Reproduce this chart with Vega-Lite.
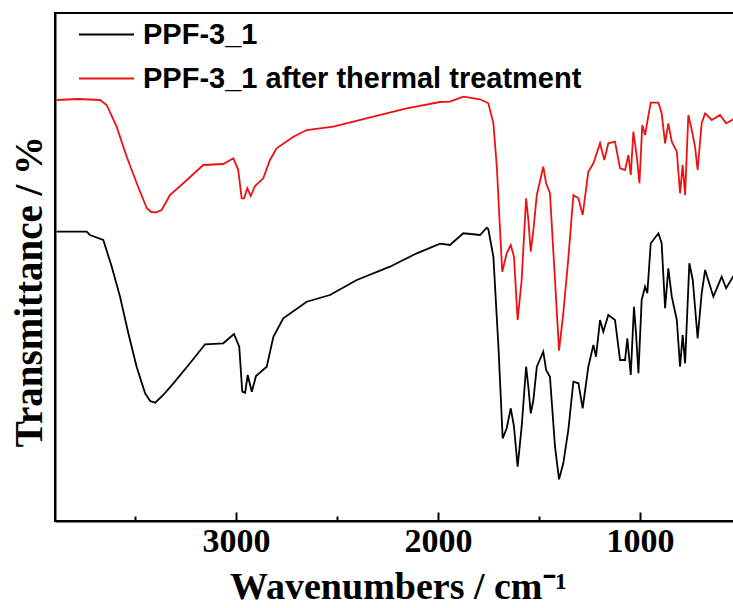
{
  "$schema": "https://vega.github.io/schema/vega-lite/v6.json",
  "width": 680,
  "height": 508,
  "autosize": {"type": "none"},
  "padding": {"left": 55, "top": 13, "right": 0, "bottom": 87},
  "background": "white",
  "config": {
    "view": {"stroke": "black", "strokeWidth": 2},
    "axis": {"grid": false}
  },
  "data": {"values": [
    {"wn": 3888, "T": 421, "s": "PPF-3_1 after thermal treatment"},
    {"wn": 3780, "T": 422, "s": "PPF-3_1 after thermal treatment"},
    {"wn": 3673, "T": 421, "s": "PPF-3_1 after thermal treatment"},
    {"wn": 3640, "T": 416, "s": "PPF-3_1 after thermal treatment"},
    {"wn": 3591, "T": 394.3, "s": "PPF-3_1 after thermal treatment"},
    {"wn": 3541, "T": 364.3, "s": "PPF-3_1 after thermal treatment"},
    {"wn": 3492, "T": 338, "s": "PPF-3_1 after thermal treatment"},
    {"wn": 3442, "T": 313, "s": "PPF-3_1 after thermal treatment"},
    {"wn": 3420, "T": 309, "s": "PPF-3_1 after thermal treatment"},
    {"wn": 3395, "T": 308.7, "s": "PPF-3_1 after thermal treatment"},
    {"wn": 3368, "T": 311, "s": "PPF-3_1 after thermal treatment"},
    {"wn": 3327, "T": 326, "s": "PPF-3_1 after thermal treatment"},
    {"wn": 3261, "T": 337.7, "s": "PPF-3_1 after thermal treatment"},
    {"wn": 3162, "T": 356, "s": "PPF-3_1 after thermal treatment"},
    {"wn": 3063, "T": 357, "s": "PPF-3_1 after thermal treatment"},
    {"wn": 3013, "T": 362.7, "s": "PPF-3_1 after thermal treatment"},
    {"wn": 2989, "T": 351, "s": "PPF-3_1 after thermal treatment"},
    {"wn": 2972, "T": 322.7, "s": "PPF-3_1 after thermal treatment"},
    {"wn": 2960, "T": 322.7, "s": "PPF-3_1 after thermal treatment"},
    {"wn": 2944, "T": 332.7, "s": "PPF-3_1 after thermal treatment"},
    {"wn": 2927, "T": 325, "s": "PPF-3_1 after thermal treatment"},
    {"wn": 2906, "T": 335, "s": "PPF-3_1 after thermal treatment"},
    {"wn": 2865, "T": 342.7, "s": "PPF-3_1 after thermal treatment"},
    {"wn": 2832, "T": 361, "s": "PPF-3_1 after thermal treatment"},
    {"wn": 2799, "T": 372.7, "s": "PPF-3_1 after thermal treatment"},
    {"wn": 2716, "T": 384.3, "s": "PPF-3_1 after thermal treatment"},
    {"wn": 2650, "T": 391, "s": "PPF-3_1 after thermal treatment"},
    {"wn": 2518, "T": 394.3, "s": "PPF-3_1 after thermal treatment"},
    {"wn": 2320, "T": 404.3, "s": "PPF-3_1 after thermal treatment"},
    {"wn": 2155, "T": 412.7, "s": "PPF-3_1 after thermal treatment"},
    {"wn": 1990, "T": 419, "s": "PPF-3_1 after thermal treatment"},
    {"wn": 1941, "T": 419.3, "s": "PPF-3_1 after thermal treatment"},
    {"wn": 1875, "T": 424.3, "s": "PPF-3_1 after thermal treatment"},
    {"wn": 1792, "T": 421.7, "s": "PPF-3_1 after thermal treatment"},
    {"wn": 1751, "T": 417.7, "s": "PPF-3_1 after thermal treatment"},
    {"wn": 1726, "T": 397.7, "s": "PPF-3_1 after thermal treatment"},
    {"wn": 1709, "T": 354.3, "s": "PPF-3_1 after thermal treatment"},
    {"wn": 1693, "T": 291, "s": "PPF-3_1 after thermal treatment"},
    {"wn": 1682, "T": 249.3, "s": "PPF-3_1 after thermal treatment"},
    {"wn": 1660, "T": 267.7, "s": "PPF-3_1 after thermal treatment"},
    {"wn": 1640, "T": 276, "s": "PPF-3_1 after thermal treatment"},
    {"wn": 1624, "T": 264.3, "s": "PPF-3_1 after thermal treatment"},
    {"wn": 1606, "T": 201, "s": "PPF-3_1 after thermal treatment"},
    {"wn": 1586, "T": 241, "s": "PPF-3_1 after thermal treatment"},
    {"wn": 1564, "T": 322.7, "s": "PPF-3_1 after thermal treatment"},
    {"wn": 1553, "T": 301, "s": "PPF-3_1 after thermal treatment"},
    {"wn": 1541, "T": 269.3, "s": "PPF-3_1 after thermal treatment"},
    {"wn": 1528, "T": 291, "s": "PPF-3_1 after thermal treatment"},
    {"wn": 1511, "T": 326, "s": "PPF-3_1 after thermal treatment"},
    {"wn": 1479, "T": 354.3, "s": "PPF-3_1 after thermal treatment"},
    {"wn": 1465, "T": 337.7, "s": "PPF-3_1 after thermal treatment"},
    {"wn": 1446, "T": 327.7, "s": "PPF-3_1 after thermal treatment"},
    {"wn": 1421, "T": 241, "s": "PPF-3_1 after thermal treatment"},
    {"wn": 1401, "T": 170.3, "s": "PPF-3_1 after thermal treatment"},
    {"wn": 1380, "T": 207.7, "s": "PPF-3_1 after thermal treatment"},
    {"wn": 1355, "T": 262.7, "s": "PPF-3_1 after thermal treatment"},
    {"wn": 1330, "T": 326, "s": "PPF-3_1 after thermal treatment"},
    {"wn": 1305, "T": 322.7, "s": "PPF-3_1 after thermal treatment"},
    {"wn": 1284, "T": 306, "s": "PPF-3_1 after thermal treatment"},
    {"wn": 1256, "T": 349.3, "s": "PPF-3_1 after thermal treatment"},
    {"wn": 1231, "T": 357.7, "s": "PPF-3_1 after thermal treatment"},
    {"wn": 1198, "T": 377.7, "s": "PPF-3_1 after thermal treatment"},
    {"wn": 1177, "T": 361, "s": "PPF-3_1 after thermal treatment"},
    {"wn": 1157, "T": 377.7, "s": "PPF-3_1 after thermal treatment"},
    {"wn": 1124, "T": 379.3, "s": "PPF-3_1 after thermal treatment"},
    {"wn": 1099, "T": 352.7, "s": "PPF-3_1 after thermal treatment"},
    {"wn": 1074, "T": 351, "s": "PPF-3_1 after thermal treatment"},
    {"wn": 1058, "T": 366, "s": "PPF-3_1 after thermal treatment"},
    {"wn": 1046, "T": 346, "s": "PPF-3_1 after thermal treatment"},
    {"wn": 1033, "T": 389.3, "s": "PPF-3_1 after thermal treatment"},
    {"wn": 1016, "T": 364.3, "s": "PPF-3_1 after thermal treatment"},
    {"wn": 1003, "T": 337.7, "s": "PPF-3_1 after thermal treatment"},
    {"wn": 989, "T": 396, "s": "PPF-3_1 after thermal treatment"},
    {"wn": 975, "T": 386, "s": "PPF-3_1 after thermal treatment"},
    {"wn": 964, "T": 399.3, "s": "PPF-3_1 after thermal treatment"},
    {"wn": 947, "T": 418.3, "s": "PPF-3_1 after thermal treatment"},
    {"wn": 909, "T": 418.3, "s": "PPF-3_1 after thermal treatment"},
    {"wn": 893, "T": 407.7, "s": "PPF-3_1 after thermal treatment"},
    {"wn": 876, "T": 377.7, "s": "PPF-3_1 after thermal treatment"},
    {"wn": 860, "T": 397.7, "s": "PPF-3_1 after thermal treatment"},
    {"wn": 843, "T": 379.3, "s": "PPF-3_1 after thermal treatment"},
    {"wn": 818, "T": 369.3, "s": "PPF-3_1 after thermal treatment"},
    {"wn": 802, "T": 327.7, "s": "PPF-3_1 after thermal treatment"},
    {"wn": 789, "T": 356, "s": "PPF-3_1 after thermal treatment"},
    {"wn": 777, "T": 326, "s": "PPF-3_1 after thermal treatment"},
    {"wn": 761, "T": 406, "s": "PPF-3_1 after thermal treatment"},
    {"wn": 744, "T": 391, "s": "PPF-3_1 after thermal treatment"},
    {"wn": 728, "T": 374.3, "s": "PPF-3_1 after thermal treatment"},
    {"wn": 715, "T": 351, "s": "PPF-3_1 after thermal treatment"},
    {"wn": 695, "T": 397.7, "s": "PPF-3_1 after thermal treatment"},
    {"wn": 678, "T": 407.7, "s": "PPF-3_1 after thermal treatment"},
    {"wn": 645, "T": 401, "s": "PPF-3_1 after thermal treatment"},
    {"wn": 604, "T": 406, "s": "PPF-3_1 after thermal treatment"},
    {"wn": 574, "T": 397.7, "s": "PPF-3_1 after thermal treatment"},
    {"wn": 530, "T": 402.7, "s": "PPF-3_1 after thermal treatment"},
    {"wn": 3888, "T": 289.3, "s": "PPF-3_1"},
    {"wn": 3739, "T": 289.3, "s": "PPF-3_1"},
    {"wn": 3723, "T": 286, "s": "PPF-3_1"},
    {"wn": 3657, "T": 281, "s": "PPF-3_1"},
    {"wn": 3615, "T": 254.3, "s": "PPF-3_1"},
    {"wn": 3574, "T": 224.3, "s": "PPF-3_1"},
    {"wn": 3533, "T": 187.7, "s": "PPF-3_1"},
    {"wn": 3492, "T": 154.3, "s": "PPF-3_1"},
    {"wn": 3450, "T": 127.7, "s": "PPF-3_1"},
    {"wn": 3425, "T": 120, "s": "PPF-3_1"},
    {"wn": 3400, "T": 118.3, "s": "PPF-3_1"},
    {"wn": 3360, "T": 126, "s": "PPF-3_1"},
    {"wn": 3310, "T": 137.7, "s": "PPF-3_1"},
    {"wn": 3228, "T": 157.7, "s": "PPF-3_1"},
    {"wn": 3153, "T": 176.7, "s": "PPF-3_1"},
    {"wn": 3063, "T": 177.7, "s": "PPF-3_1"},
    {"wn": 3010, "T": 187, "s": "PPF-3_1"},
    {"wn": 2984, "T": 174.3, "s": "PPF-3_1"},
    {"wn": 2969, "T": 129.3, "s": "PPF-3_1"},
    {"wn": 2955, "T": 128.3, "s": "PPF-3_1"},
    {"wn": 2942, "T": 146, "s": "PPF-3_1"},
    {"wn": 2922, "T": 129.3, "s": "PPF-3_1"},
    {"wn": 2901, "T": 145, "s": "PPF-3_1"},
    {"wn": 2848, "T": 154.3, "s": "PPF-3_1"},
    {"wn": 2815, "T": 184.3, "s": "PPF-3_1"},
    {"wn": 2766, "T": 202.7, "s": "PPF-3_1"},
    {"wn": 2650, "T": 219.3, "s": "PPF-3_1"},
    {"wn": 2535, "T": 226, "s": "PPF-3_1"},
    {"wn": 2402, "T": 241, "s": "PPF-3_1"},
    {"wn": 2238, "T": 254.3, "s": "PPF-3_1"},
    {"wn": 2105, "T": 267.7, "s": "PPF-3_1"},
    {"wn": 1990, "T": 277.3, "s": "PPF-3_1"},
    {"wn": 1941, "T": 276, "s": "PPF-3_1"},
    {"wn": 1875, "T": 287.7, "s": "PPF-3_1"},
    {"wn": 1792, "T": 286, "s": "PPF-3_1"},
    {"wn": 1759, "T": 293.3, "s": "PPF-3_1"},
    {"wn": 1751, "T": 291.7, "s": "PPF-3_1"},
    {"wn": 1726, "T": 264.3, "s": "PPF-3_1"},
    {"wn": 1701, "T": 174.3, "s": "PPF-3_1"},
    {"wn": 1680, "T": 82.7, "s": "PPF-3_1"},
    {"wn": 1660, "T": 92.7, "s": "PPF-3_1"},
    {"wn": 1640, "T": 112.7, "s": "PPF-3_1"},
    {"wn": 1624, "T": 94.3, "s": "PPF-3_1"},
    {"wn": 1606, "T": 54.3, "s": "PPF-3_1"},
    {"wn": 1586, "T": 94.3, "s": "PPF-3_1"},
    {"wn": 1564, "T": 154.3, "s": "PPF-3_1"},
    {"wn": 1553, "T": 134.3, "s": "PPF-3_1"},
    {"wn": 1541, "T": 107.7, "s": "PPF-3_1"},
    {"wn": 1528, "T": 121, "s": "PPF-3_1"},
    {"wn": 1511, "T": 154.3, "s": "PPF-3_1"},
    {"wn": 1479, "T": 169.3, "s": "PPF-3_1"},
    {"wn": 1465, "T": 151, "s": "PPF-3_1"},
    {"wn": 1446, "T": 144.3, "s": "PPF-3_1"},
    {"wn": 1421, "T": 74.3, "s": "PPF-3_1"},
    {"wn": 1401, "T": 41.7, "s": "PPF-3_1"},
    {"wn": 1380, "T": 57.7, "s": "PPF-3_1"},
    {"wn": 1355, "T": 91, "s": "PPF-3_1"},
    {"wn": 1330, "T": 139.3, "s": "PPF-3_1"},
    {"wn": 1305, "T": 137.7, "s": "PPF-3_1"},
    {"wn": 1284, "T": 112.7, "s": "PPF-3_1"},
    {"wn": 1256, "T": 154.3, "s": "PPF-3_1"},
    {"wn": 1231, "T": 176, "s": "PPF-3_1"},
    {"wn": 1218, "T": 164.3, "s": "PPF-3_1"},
    {"wn": 1198, "T": 201, "s": "PPF-3_1"},
    {"wn": 1182, "T": 189.3, "s": "PPF-3_1"},
    {"wn": 1157, "T": 206, "s": "PPF-3_1"},
    {"wn": 1124, "T": 201, "s": "PPF-3_1"},
    {"wn": 1099, "T": 161, "s": "PPF-3_1"},
    {"wn": 1074, "T": 161, "s": "PPF-3_1"},
    {"wn": 1063, "T": 182.7, "s": "PPF-3_1"},
    {"wn": 1046, "T": 146, "s": "PPF-3_1"},
    {"wn": 1030, "T": 214.3, "s": "PPF-3_1"},
    {"wn": 1020, "T": 187.7, "s": "PPF-3_1"},
    {"wn": 1008, "T": 147.7, "s": "PPF-3_1"},
    {"wn": 992, "T": 221, "s": "PPF-3_1"},
    {"wn": 975, "T": 234.3, "s": "PPF-3_1"},
    {"wn": 964, "T": 227.7, "s": "PPF-3_1"},
    {"wn": 947, "T": 277.7, "s": "PPF-3_1"},
    {"wn": 909, "T": 287.7, "s": "PPF-3_1"},
    {"wn": 893, "T": 277.7, "s": "PPF-3_1"},
    {"wn": 876, "T": 212.7, "s": "PPF-3_1"},
    {"wn": 860, "T": 252.7, "s": "PPF-3_1"},
    {"wn": 843, "T": 224.3, "s": "PPF-3_1"},
    {"wn": 818, "T": 201, "s": "PPF-3_1"},
    {"wn": 802, "T": 154.3, "s": "PPF-3_1"},
    {"wn": 789, "T": 186, "s": "PPF-3_1"},
    {"wn": 777, "T": 157.7, "s": "PPF-3_1"},
    {"wn": 756, "T": 257.7, "s": "PPF-3_1"},
    {"wn": 739, "T": 241, "s": "PPF-3_1"},
    {"wn": 728, "T": 214.3, "s": "PPF-3_1"},
    {"wn": 715, "T": 182.7, "s": "PPF-3_1"},
    {"wn": 695, "T": 227.7, "s": "PPF-3_1"},
    {"wn": 678, "T": 251, "s": "PPF-3_1"},
    {"wn": 637, "T": 224.3, "s": "PPF-3_1"},
    {"wn": 596, "T": 244.3, "s": "PPF-3_1"},
    {"wn": 574, "T": 232.7, "s": "PPF-3_1"},
    {"wn": 530, "T": 247.7, "s": "PPF-3_1"}
  ]},
  "mark": {"type": "line", "strokeWidth": 1.8, "clip": true},
  "encoding": {
    "x": {
      "field": "wn", "type": "quantitative",
      "scale": {"domain": [530, 3896], "reverse": true, "nice": false, "zero": false},
      "axis": {
        "title": "Wavenumbers / cm⁻¹",
        "titleFont": "Liberation Serif", "titleFontWeight": "bold", "titleFontSize": 38, "titleColor": "black",
        "titleBaseline": "alphabetic", "titleY": 77, "titleX": 343, "titleAnchor": null, "titleAlign": "center",
        "values": [3500, 3000, 2500, 2000, 1500, 1000],
        "labelExpr": "datum.value % 1000 === 0 ? datum.label : ''",
        "format": "d",
        "labelFont": "Liberation Serif", "labelFontWeight": "bold", "labelFontSize": 34, "labelColor": "black",
        "labelBaseline": "top", "labelPadding": 12,
        "tickSize": {"condition": {"test": "datum.value % 1000 === 0", "value": -9}, "value": -5},
        "tickColor": "black", "tickWidth": 2,
        "domainColor": "black", "domainWidth": 2,
        "labelFlush": false, "labelOverlap": false
      }
    },
    "y": {
      "field": "T", "type": "quantitative",
      "scale": {"domain": [0, 508], "nice": false, "zero": false},
      "axis": {
        "title": "Transmittance / %",
        "titleFont": "Liberation Serif", "titleFontWeight": "bold", "titleFontSize": 39, "titleColor": "black",
        "titleAngle": -90, "titleBaseline": "alphabetic", "titleAlign": "center",
        "titleX": -14, "titleY": 278,
        "labels": false, "ticks": false,
        "domainColor": "black", "domainWidth": 2
      }
    },
    "color": {
      "field": "s", "type": "nominal",
      "scale": {"domain": ["PPF-3_1", "PPF-3_1 after thermal treatment"], "range": ["black", "#ee1111"]},
      "legend": {
        "title": null, "orient": "none", "legendX": 23, "legendY": -7,
        "symbolType": "stroke", "symbolSize": 3025, "symbolStrokeWidth": 2,
        "labelFont": "Liberation Sans", "labelFontWeight": "bold", "labelFontSize": 29, "labelColor": "black",
        "labelOffset": 8, "rowPadding": -11, "labelLimit": 700, "padding": 0
      }
    }
  }
}
